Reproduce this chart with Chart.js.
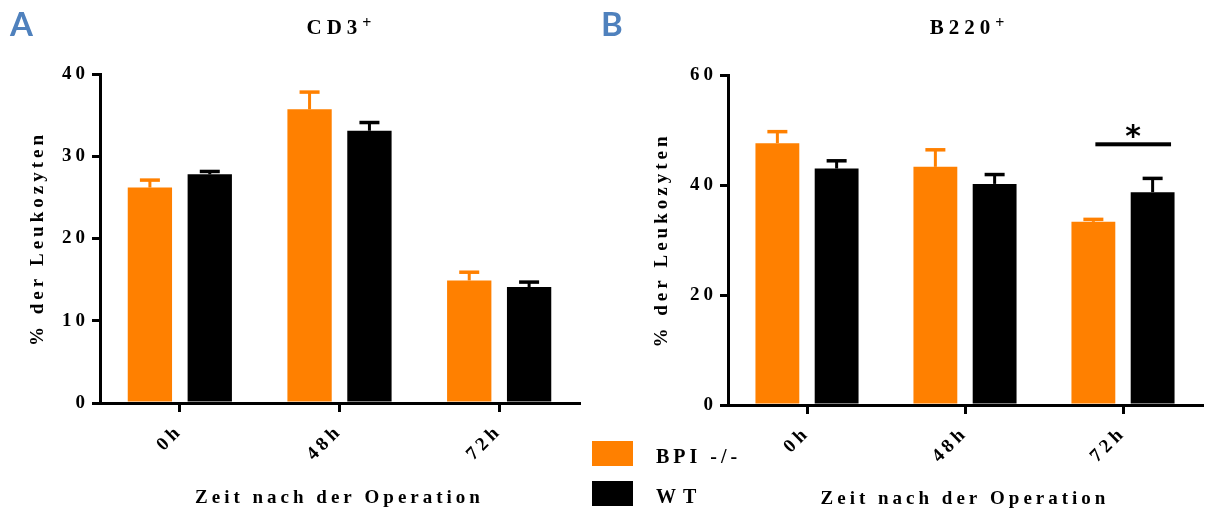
<!DOCTYPE html>
<html>
<head>
<meta charset="utf-8">
<script src="https://cdn.jsdelivr.net/npm/chart.js@4/dist/chart.umd.min.js"></script>
<style>
  html, body { margin: 0; padding: 0; background: #fff; }
  body { width: 1212px; height: 514px; position: relative; overflow: hidden; }
  .pane { position: absolute; top: 0; }
  .letter { position: absolute; font-family: Lato, "Open Sans", sans-serif; font-weight: bold; font-size: 33px; line-height: 33px; color: #4F81BD; }
  .ttl { position: absolute; font-family: "Liberation Serif", serif; font-weight: bold; font-size: 21px; line-height: 21px; letter-spacing: 5px; text-align: center; width: 200px; color: #000; }
  .ttl sup { font-size: 16px; position: relative; top: -5px; vertical-align: top; letter-spacing: 0; }
  .lgbox { position: absolute; width: 41px; height: 25px; }
  .lgtxt { position: absolute; font-family: "Liberation Serif", serif; font-weight: bold; font-size: 20px; line-height: 20px; letter-spacing: 4px; color: #000; }
</style>
</head>
<body>
<div class="pane" style="left:0;width:600px;height:514px;"><canvas id="cA" width="600" height="514"></canvas></div>
<div class="pane" style="left:600px;width:612px;height:514px;"><canvas id="cB" width="612" height="514"></canvas></div>

<div class="letter" style="left:10px;top:7px;">A</div>
<div class="letter" style="left:601px;top:7px;">B</div>
<div class="ttl" style="left:239px;top:17px;">CD3<sup>+</sup></div>
<div class="ttl" style="left:867px;top:17px;">B220<sup>+</sup></div>

<div class="lgbox" style="left:592px;top:441px;background:#FF8000;"></div>
<div class="lgbox" style="left:592px;top:481px;background:#000;"></div>
<div class="lgtxt" style="left:656px;top:446px;">BPI -/-</div>
<div class="lgtxt" style="left:656px;top:486px;letter-spacing:7px;">WT</div>

<script>
// ---- data ----
const categories = ['0h', '48h', '72h'];
const seriesNames = ['BPI -/-', 'WT'];
const seriesColors = ['#FF8000', '#000000'];

// Panel A: CD3+
const cd3_bpi     = [26.2, 35.7, 14.9];
const cd3_bpi_err = [0.9, 2.1, 1.0];
const cd3_wt      = [27.8, 33.1, 14.1];
const cd3_wt_err  = [0.35, 1.0, 0.6];
const cd3_ticks   = { min: 0, max: 40, step: 10 };

// Panel B: B220+
const b220_bpi     = [47.6, 43.3, 33.3];
const b220_bpi_err = [2.1, 3.1, 0.45];
const b220_wt      = [43.0, 40.2, 38.7];
const b220_wt_err  = [1.4, 1.7, 2.5];
const b220_ticks   = { min: 0, max: 60, step: 20 };

// significance marker in panel B
const sigCategoryIndex = 2;
const sigLineValue = 47.4;
const sigLabel = '*';

const yTitle = '% der Leukozyten';
const xTitle = 'Zeit nach der Operation';

// ---- plugins ----
const LS = '4px';
const spacing = {
  id: 'spacing',
  beforeUpdate(c) { c.ctx.letterSpacing = LS; },
  beforeLayout(c) { c.ctx.letterSpacing = LS; },
  beforeDraw(c) { c.ctx.letterSpacing = LS; }
};

const errorBars = {
  id: 'errorBars',
  afterDatasetsDraw(c) {
    const ctx = c.ctx;
    const ys = c.scales.y;
    c.data.datasets.forEach((ds, i) => {
      const meta = c.getDatasetMeta(i);
      meta.data.forEach((bar, j) => {
        const top = ys.getPixelForValue(ds.data[j] + ds.errors[j]);
        ctx.save();
        ctx.strokeStyle = ds.backgroundColor;
        ctx.lineWidth = 3;
        ctx.beginPath();
        ctx.moveTo(bar.x, bar.y);
        ctx.lineTo(bar.x, top);
        ctx.stroke();
        ctx.lineWidth = 3.5;
        ctx.beginPath();
        ctx.moveTo(bar.x - 10, top);
        ctx.lineTo(bar.x + 10, top);
        ctx.stroke();
        ctx.restore();
      });
    });
  }
};

const significance = {
  id: 'significance',
  afterDatasetsDraw(c, args, opts) {
    if (!opts || !opts.show) return;
    const ctx = c.ctx;
    const ys = c.scales.y;
    const b0 = c.getDatasetMeta(0).data[opts.index];
    const b1 = c.getDatasetMeta(1).data[opts.index];
    const y = ys.getPixelForValue(opts.value);
    const x1 = b0.x + 2;
    const x2 = b1.x + b1.width * 0.42;
    ctx.save();
    ctx.fillStyle = '#000';
    ctx.fillRect(x1, y - 2, x2 - x1, 4);
    ctx.letterSpacing = '0px';
    ctx.font = 'bold 30px "DejaVu Sans"';
    ctx.textAlign = 'center';
    ctx.textBaseline = 'middle';
    ctx.fillText(opts.label, (x1 + x2) / 2, y - 6);
    ctx.restore();
  }
};

const tickFont = { family: '"Liberation Serif", serif', weight: 'bold', size: 19 };

function makeChart(id, bpi, bpiErr, wt, wtErr, t, geo, sig) {
  return new Chart(document.getElementById(id), {
    type: 'bar',
    data: {
      labels: categories,
      datasets: [
        { label: seriesNames[0], data: bpi, errors: bpiErr, backgroundColor: seriesColors[0], borderWidth: 0,
          categoryPercentage: 0.75, barPercentage: 0.74 },
        { label: seriesNames[1], data: wt, errors: wtErr, backgroundColor: seriesColors[1], borderWidth: 0,
          categoryPercentage: 0.75, barPercentage: 0.74 }
      ]
    },
    options: {
      responsive: false,
      devicePixelRatio: 1,
      animation: false,
      layout: { padding: { left: 0, top: geo.top, right: geo.right, bottom: 0 } },
      plugins: {
        legend: { display: false },
        tooltip: { enabled: false },
        title: { display: false },
        significance: sig
      },
      scales: {
        x: {
          border: { display: true, color: '#000', width: 3 },
          grid: { offset: false, drawOnChartArea: false, drawTicks: true, tickLength: 9, lineWidth: 3, color: '#000' },
          ticks: { color: '#000', font: tickFont, minRotation: 45, maxRotation: 45, autoSkip: false, padding: 8 },
          title: { display: true, text: xTitle, color: '#000', font: tickFont, padding: { top: 0, bottom: geo.xTitlePad } },
          afterFit: s => { s.height = geo.xHeight; }
        },
        y: {
          min: t.min, max: t.max,
          border: { display: true, color: '#000', width: 3 },
          grid: { drawOnChartArea: false, drawTicks: true, tickLength: 8, lineWidth: 3, color: '#000' },
          ticks: { color: '#000', font: tickFont, stepSize: t.step, padding: 3 },
          title: { display: true, text: yTitle, color: '#000', font: tickFont, padding: { top: geo.yTitlePad, bottom: 0 } },
          afterFit: s => { s.width = geo.yWidth; }
        }
      }
    },
    plugins: [spacing, errorBars, significance]
  });
}

makeChart('cA', cd3_bpi, cd3_bpi_err, cd3_wt, cd3_wt_err, cd3_ticks,
  { top: 74, right: 21, xHeight: 111, yWidth: 100, yTitlePad: 27, xTitlePad: 5 },
  { show: false });

makeChart('cB', b220_bpi, b220_bpi_err, b220_wt, b220_wt_err, b220_ticks,
  { top: 75, right: 10, xHeight: 109, yWidth: 128, yTitlePad: 51, xTitlePad: 4 },
  { show: true, index: sigCategoryIndex, value: sigLineValue, label: sigLabel });
</script>
</body>
</html>
